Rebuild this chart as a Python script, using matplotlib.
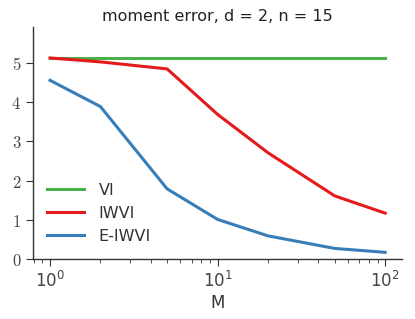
import matplotlib
matplotlib.use("Agg")
import matplotlib.pyplot as plt

plt.rcParams['mathtext.fontset'] = 'cm'
plt.rcParams['font.family'] = ['DejaVu Sans']

M = [1, 2, 5, 10, 20, 50, 100]
vi = [5.13, 5.13, 5.13, 5.13, 5.13, 5.13, 5.13]
iwvi = [5.13, 5.03, 4.85, 3.69, 2.71, 1.61, 1.17]
eiwvi = [4.56, 3.89, 1.79, 1.01, 0.59, 0.27, 0.17]
labels = ["VI", "IWVI", "E-IWVI"]
colors = ["#4daf4a", "#e41a1c", "#377eb8"]

fig = plt.figure(figsize=(4.15, 3.19), dpi=100)
ax = fig.add_axes([33/415, 1-259/319, (402-33)/415, (259-27)/319])
for y, lab, c in zip([vi, iwvi, eiwvi], labels, colors):
    ax.plot(M, y, color=c, lw=2.2, label=lab)
ax.set_xscale('log')
ax.set_xlim(0.792, 126)
ax.set_ylim(0, 5.92)
ax.set_yticks([0, 1, 2, 3, 4, 5])
ax.set_yticklabels([f"${v}$" for v in [0, 1, 2, 3, 4, 5]])
for s in ['top', 'right']:
    ax.spines[s].set_visible(False)
for s in ['left', 'bottom']:
    ax.spines[s].set_color('#333333')
    ax.spines[s].set_linewidth(1.0)
ax.tick_params(which='major', direction='out', length=5, color='#333333', labelsize=12, labelcolor='#444444')
ax.tick_params(which='minor', direction='out', length=3, color='#333333')
ax.set_xlabel("M", fontsize=12, color='#333333', labelpad=2)
ax.set_title("moment error, d = 2, n = 15", fontsize=11.5, color='#222222', pad=4)
leg = ax.legend(loc='lower left', frameon=False, fontsize=11.5, handlelength=2.3,
                bbox_to_anchor=(0.0, 0.004), labelspacing=0.5, handletextpad=0.9)
for t in leg.get_texts():
    t.set_color('#333333')
fig.savefig("out.png", dpi=100)
